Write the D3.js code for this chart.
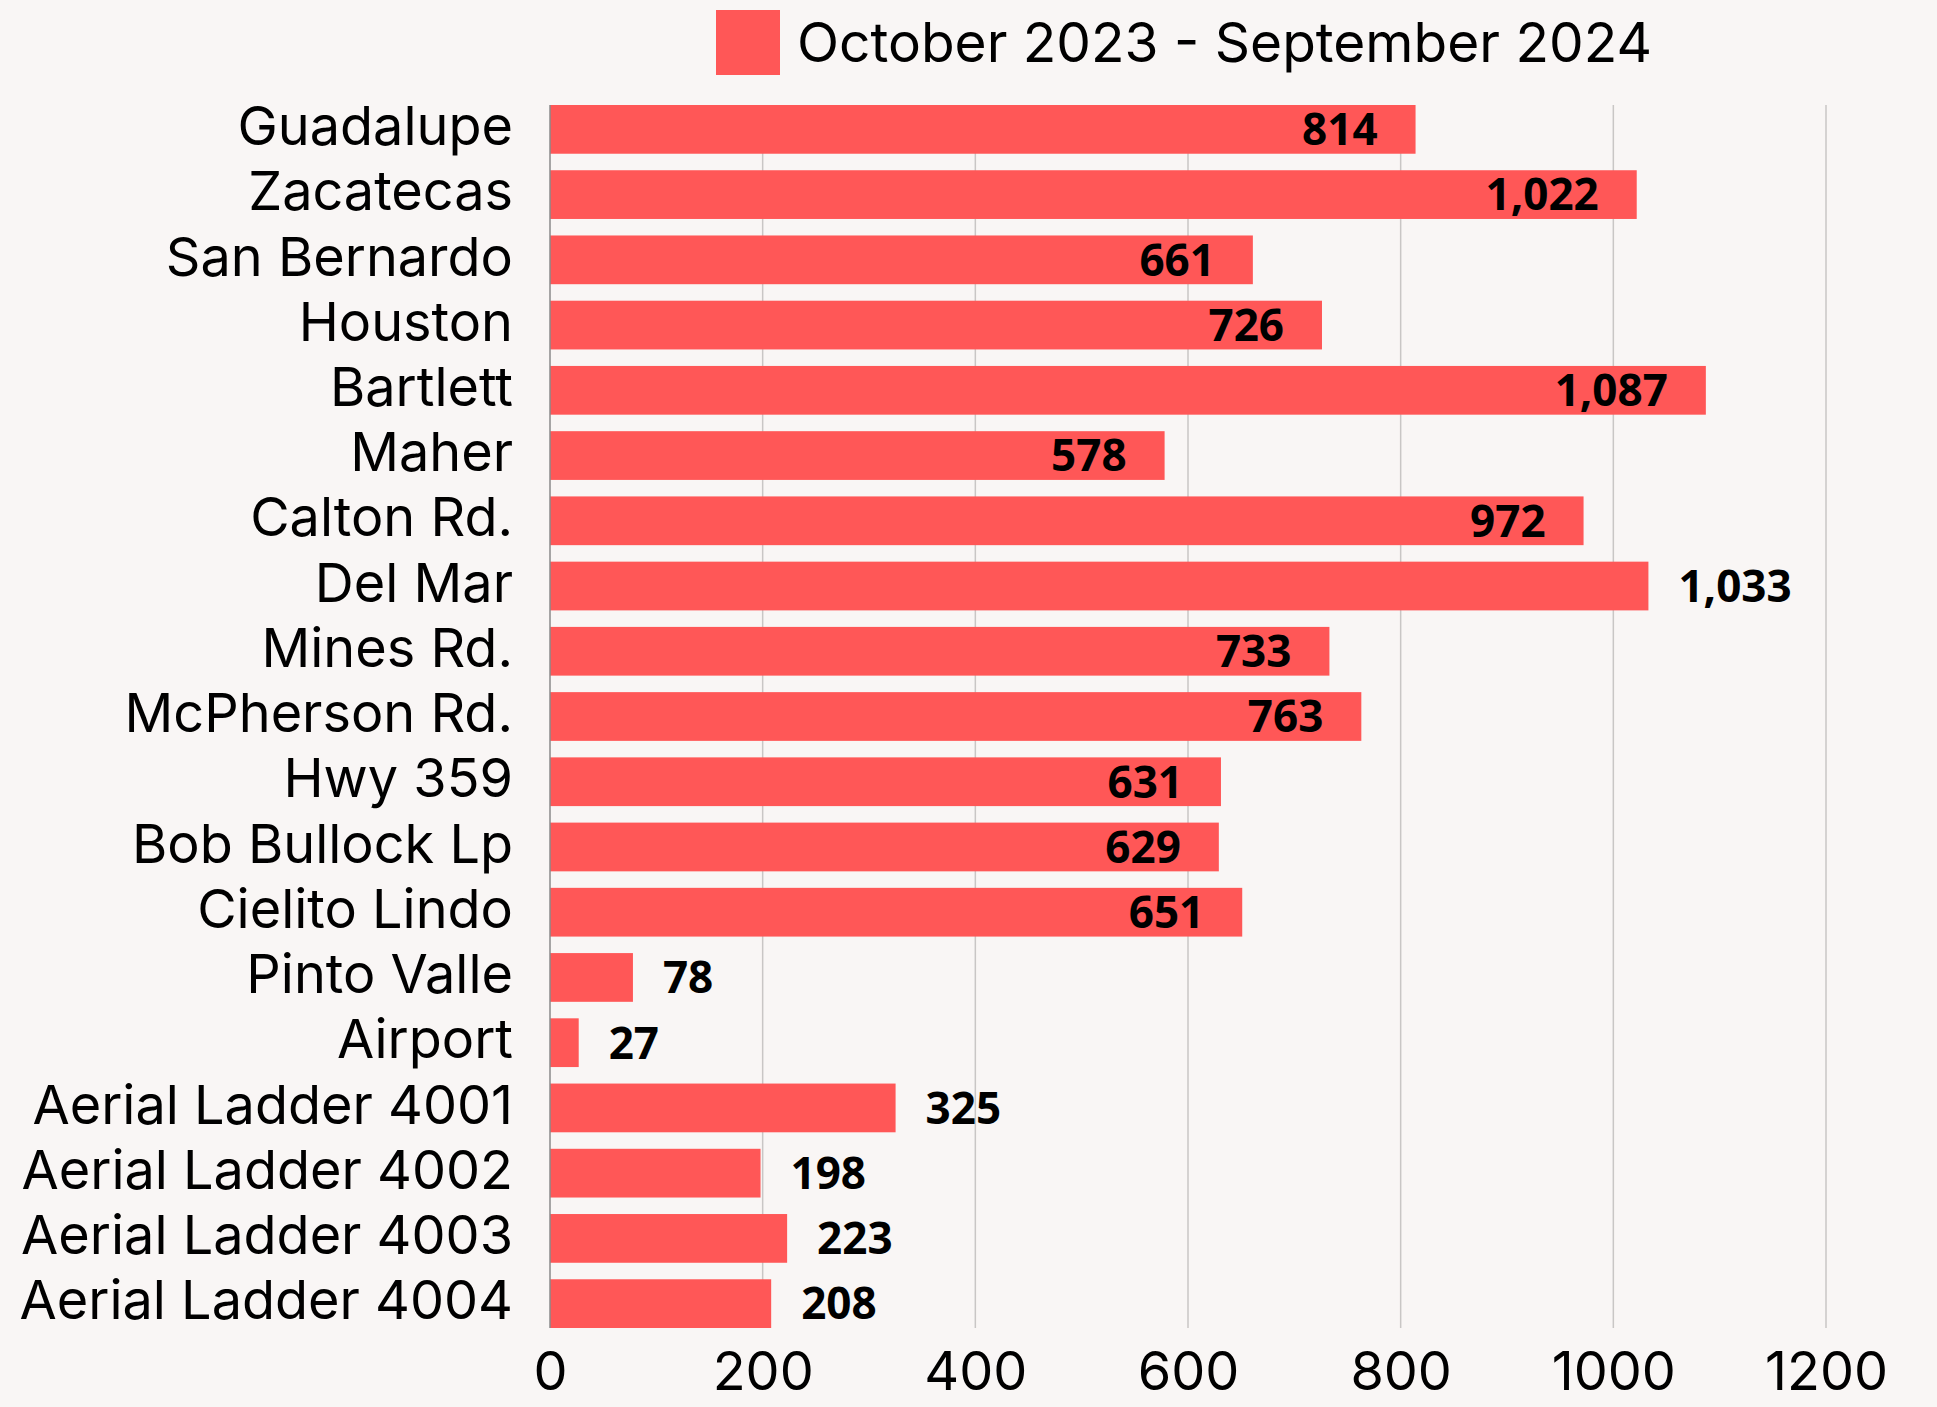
<!DOCTYPE html>
<html>
<head>
<meta charset="utf-8">
<script src="https://cdn.jsdelivr.net/npm/d3@7"></script>
<style>
  body { margin: 0; background: #f9f6f5; }
  svg { display: block; }
</style>
</head>
<body>
<script>
// chart data
var stations = ['Guadalupe', 'Zacatecas', 'San Bernardo', 'Houston', 'Bartlett', 'Maher', 'Calton Rd.',
  'Del Mar', 'Mines Rd.', 'McPherson Rd.', 'Hwy 359', 'Bob Bullock Lp', 'Cielito Lindo', 'Pinto Valle',
  'Airport', 'Aerial Ladder 4001', 'Aerial Ladder 4002', 'Aerial Ladder 4003', 'Aerial Ladder 4004'];
var counts = [814, 1022, 661, 726, 1087, 578, 972, 1033, 733, 763, 631, 629, 651, 78, 27, 325, 198, 223, 208];
var xTicks = [0, 200, 400, 600, 800, 1000, 1200];
var seriesName = 'October 2023 - September 2024';

// labels that sit past the bar end even though the bar is long
var outsideLabels = ['Del Mar'];

var W = 1937, H = 1407;
var margin = { top: 105, right: 111, bottom: 79, left: 550 };
var width = W - margin.left - margin.right;
var height = H - margin.top - margin.bottom;
var barColor = '#ff5757';

var data = stations.map(function(s, i) { return { name: s, value: counts[i] }; });

var x = d3.scaleLinear().domain([0, 1200]).range([0, width]);
var y = d3.scaleBand().domain(stations).range([0, height]).paddingInner(0.253).paddingOuter(0);

var svg = d3.select('body').append('svg')
    .attr('width', W)
    .attr('height', H);

svg.append('rect').attr('width', W).attr('height', H).attr('fill', '#f9f6f5');

var g = svg.append('g')
    .attr('transform', 'translate(' + margin.left + ',' + margin.top + ')');

// grid lines
g.selectAll('.grid')
    .data(xTicks.slice(1))
  .enter().append('line')
    .attr('class', 'grid')
    .attr('x1', function(d) { return x(d); })
    .attr('x2', function(d) { return x(d); })
    .attr('y1', 0)
    .attr('y2', height)
    .attr('stroke', '#c9c6c5')
    .attr('stroke-width', 1.5);

// x axis labels
var xAxis = d3.axisBottom(x).tickValues(xTicks).tickSize(0).tickPadding(24).tickFormat(d3.format('d'));
var xg = g.append('g')
    .attr('transform', 'translate(0,' + height + ')')
    .call(xAxis);
xg.select('.domain').remove();
xg.selectAll('text')
    .attr('font-family', 'Inter, sans-serif')
    .attr('font-size', 54)
    .attr('fill', '#000');

// bars
g.selectAll('.bar')
    .data(data)
  .enter().append('rect')
    .attr('class', 'bar')
    .attr('x', 0)
    .attr('y', function(d) { return y(d.name); })
    .attr('width', function(d) { return x(d.value); })
    .attr('height', y.bandwidth())
    .attr('fill', barColor);

// y axis line
g.append('line')
    .attr('x1', 0).attr('x2', 0)
    .attr('y1', 0).attr('y2', height)
    .attr('stroke', '#8a8a8a')
    .attr('stroke-width', 1.5);

// category labels
var yAxis = d3.axisLeft(y).tickSize(0).tickPadding(37);
var yg = g.append('g').call(yAxis);
yg.select('.domain').remove();
yg.selectAll('text')
    .attr('font-family', 'Inter, sans-serif')
    .attr('font-size', 54)
    .attr('fill', '#000')
    .attr('dy', '0.29em');

// value labels
var fmt = d3.format(',');
g.selectAll('.val')
    .data(data)
  .enter().append('text')
    .attr('class', 'val')
    .attr('font-family', '"Open Sans", sans-serif')
    .attr('font-weight', 700)
    .attr('font-size', 44)
    .attr('fill', '#000')
    .attr('y', function(d) { return y(d.name) + y.bandwidth() / 2; })
    .attr('dy', '0.36em')
    .attr('x', function(d) {
      var inside = d.value > 400 && outsideLabels.indexOf(d.name) < 0;
      return inside ? x(d.value) - 38 : x(d.value) + 30;
    })
    .attr('text-anchor', function(d) {
      var inside = d.value > 400 && outsideLabels.indexOf(d.name) < 0;
      return inside ? 'end' : 'start';
    })
    .text(function(d) { return fmt(d.value); });

// legend
var legend = svg.append('g').attr('transform', 'translate(716,10)');
legend.append('rect')
    .attr('width', 64)
    .attr('height', 65)
    .attr('fill', barColor);
legend.append('text')
    .attr('x', 81)
    .attr('y', 52)
    .attr('font-family', 'Inter, sans-serif')
    .attr('font-size', 55)
    .attr('fill', '#000')
    .text(seriesName);
</script>
</body>
</html>
